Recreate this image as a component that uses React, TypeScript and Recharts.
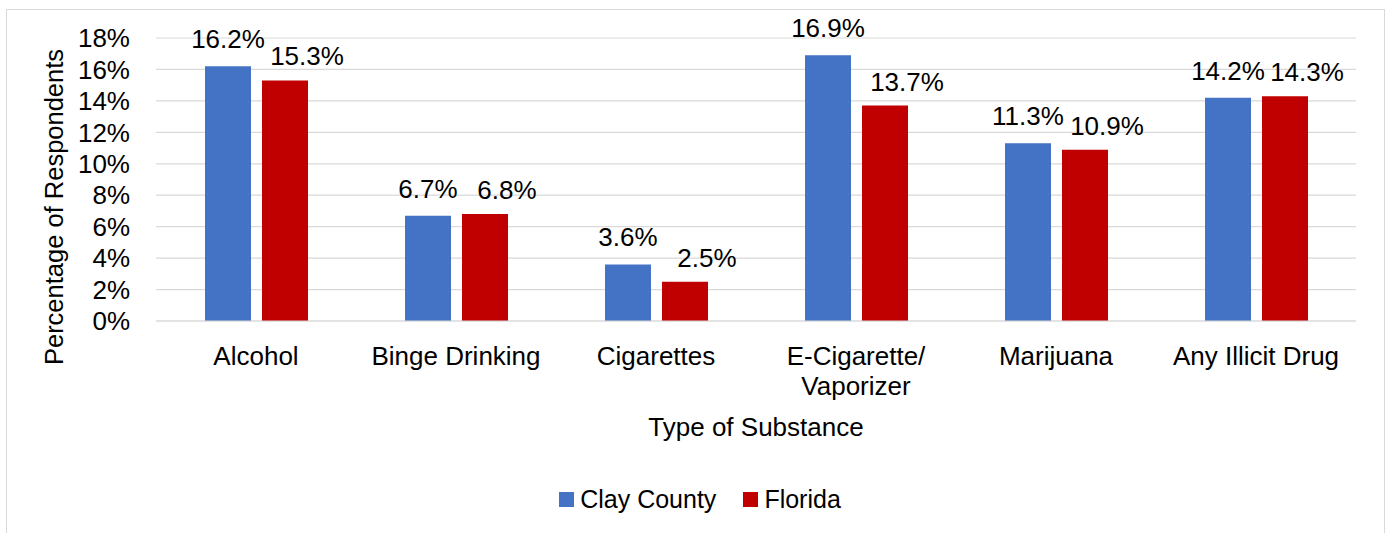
import { BarChart, Bar, XAxis, YAxis, CartesianGrid, Legend, LabelList, Label } from 'recharts'

const FONT = '"Liberation Sans", Arial, sans-serif'

// categories and values
const SUBSTANCES = ['Alcohol', 'Binge Drinking', 'Cigarettes', 'E-Cigarette/\nVaporizer', 'Marijuana', 'Any Illicit Drug']
const CLAY_COUNTY = [16.2, 6.7, 3.6, 16.9, 11.3, 14.2]
const FLORIDA = [15.3, 6.8, 2.5, 13.7, 10.9, 14.3]
const Y_TICKS = [0, 2, 4, 6, 8, 10, 12, 14, 16, 18]

const BLUE = '#4472C4'
const RED = '#C00000'
const GRID = '#D9D9D9'

const data = SUBSTANCES.map((name, i) => ({ name, clay: CLAY_COUNTY[i], florida: FLORIDA[i] }))

const pct = (v: number) => `${v}%`

function CategoryTick({ x, y, payload }: any) {
  const lines = String(payload.value).split('\n')
  return (
    <text x={x} y={y} textAnchor="middle" fontSize={26} fill="#000" fontFamily={FONT}>
      {lines.map((l, i) => (
        <tspan key={i} x={x} dy={i === 0 ? '0.71em' : 30}>{l}</tspan>
      ))}
    </text>
  )
}

function YTitle() {
  return (
    <text x={47} y={197} dy="0.36em" transform="rotate(-90 47 197)" textAnchor="middle"
      fontSize={25.5} fill="#000" fontFamily={FONT}>
      Percentage of Respondents
    </text>
  )
}

// value labels sit above the bar; Excel nudged the Florida ones to the right
const valueLabel = (shift: number, gap: number) => (props: any) => {
  const { x, y, width, value } = props
  return (
    <text x={Number(x) + Number(width) / 2 + shift} y={Number(y) - gap} textAnchor="middle"
      fontSize={26} fill="#000" fontFamily={FONT}>
      {`${Number(value).toFixed(1)}%`}
    </text>
  )
}

function LegendRow({ payload }: any) {
  return (
    <div style={{ display: 'flex', justifyContent: 'center', alignItems: 'center', height: 30, paddingLeft: 9, fontFamily: FONT, fontSize: 25, color: '#000' }}>
      {(payload || []).map((p: any, i: number) => (
        <span key={p.value} style={{ display: 'flex', alignItems: 'center', marginRight: i === 0 ? 27 : 0 }}>
          <span style={{ width: 15, height: 15, background: p.color, marginRight: 6, display: 'inline-block' }} />
          {p.value}
        </span>
      ))}
    </div>
  )
}

export default function App() {
  return (
    <div style={{ position: 'absolute', left: 6, top: 9, width: 1377, height: 523, border: `1px solid ${GRID}`, borderBottom: 'none', background: '#fff' }}>
      <BarChart width={1377} height={523} data={data} barCategoryGap="24.5%" barGap={11}
        margin={{ top: 28, right: 28, left: 0, bottom: 0 }}>
        <CartesianGrid vertical={false} stroke={GRID} strokeWidth={1.2} />
        <XAxis dataKey="name" height={212} interval={0} axisLine={{ stroke: GRID }} tickLine={false}
          tickSize={6} tickMargin={20} tick={<CategoryTick />}>
          <Label value="Type of Substance" position="insideTop" offset={97} fontSize={26} fill="#000" fontFamily={FONT} />
        </XAxis>
        <YAxis width={149} domain={[0, 18]} ticks={Y_TICKS} interval={0} tickFormatter={pct} axisLine={false} tickLine={false}
          tickSize={6} tickMargin={20} tick={{ fontSize: 26, fill: '#000', fontFamily: FONT }}>
          <Label content={<YTitle />} />
        </YAxis>
        <Legend verticalAlign="middle" align="center" wrapperStyle={{ top: 474, left: 0, width: 1377 }} content={<LegendRow />} />
        <Bar dataKey="clay" name="Clay County" fill={BLUE} isAnimationActive={false}>
          <LabelList dataKey="clay" content={valueLabel(0, 18)} />
        </Bar>
        <Bar dataKey="florida" name="Florida" fill={RED} isAnimationActive={false}>
          <LabelList dataKey="florida" content={valueLabel(22, 15)} />
        </Bar>
      </BarChart>
    </div>
  )
}
